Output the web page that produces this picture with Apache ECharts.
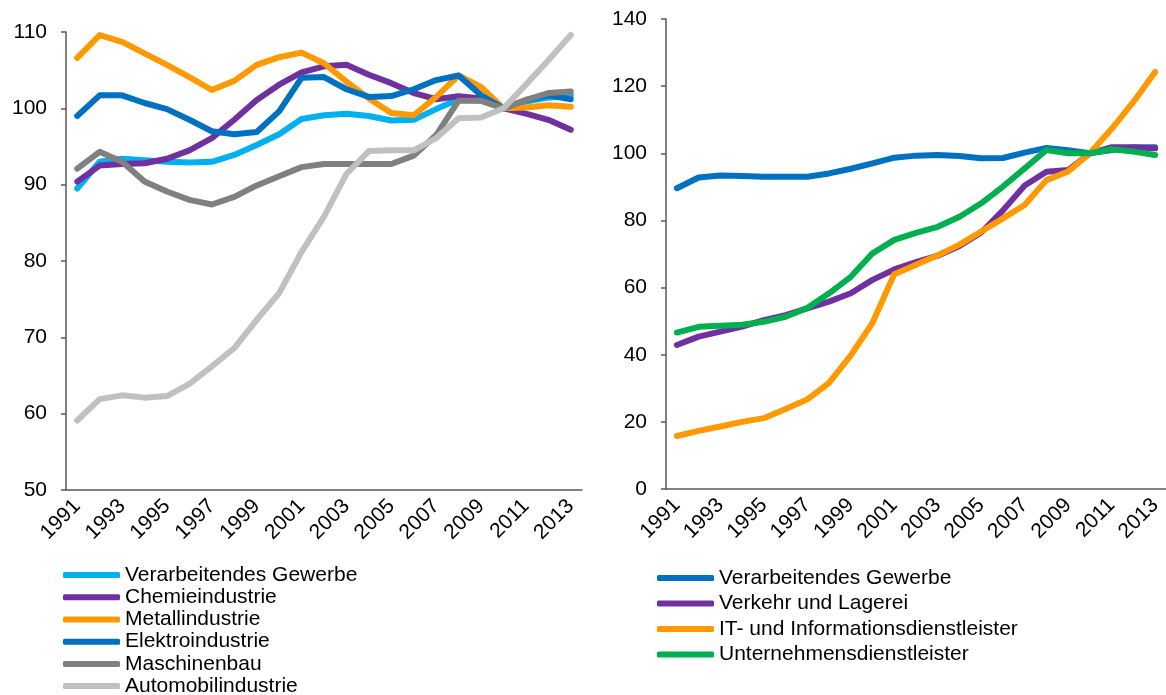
<!DOCTYPE html>
<html>
  <head>
    <meta charset="utf-8" />
    <title>Index</title>
    <style type="text/css">
      body{margin:0;padding:0;background:#fff;}
      #chart1{width:1166px;height:695px;}
    </style>
    <script type="text/javascript" src="https://cdn.jsdelivr.net/npm/echarts@6/dist/echarts.min.js"></script>
  </head>
  <body>
    <div id="chart1"></div>
  </body>
  <script type="text/javascript">
    // Jahre (x-Achse, beide Diagramme)
    var years = ['1991','1992','1993','1994','1995','1996','1997','1998','1999','2000','2001','2002',
                 '2003','2004','2005','2006','2007','2008','2009','2010','2011','2012','2013'];

    // linkes Diagramm: Industrie
    var vgLeft    = [89.5, 93.0, 93.4, 93.2, 93.0, 92.9, 93.0, 93.9, 95.2, 96.6, 98.6, 99.1, 99.3, 99.0, 98.4, 98.5, 99.9, 101.2, 101.0, 100.0, 100.9, 101.4, 101.7];
    var chemie    = [90.4, 92.5, 92.7, 92.8, 93.4, 94.5, 96.1, 98.5, 101.1, 103.1, 104.7, 105.5, 105.7, 104.4, 103.3, 102.0, 101.2, 101.6, 101.3, 100.0, 99.3, 98.5, 97.2];
    var metall    = [106.6, 109.6, 108.7, 107.2, 105.7, 104.1, 102.4, 103.6, 105.7, 106.7, 107.3, 105.9, 103.5, 101.3, 99.4, 99.1, 101.5, 104.3, 102.8, 100.0, 100.1, 100.4, 100.2];
    var elektro   = [99.0, 101.7, 101.7, 100.7, 99.9, 98.5, 97.0, 96.6, 96.9, 99.6, 104.0, 104.1, 102.5, 101.5, 101.6, 102.5, 103.7, 104.3, 101.7, 100.0, 101.1, 101.7, 101.2];
    var maschinen = [92.1, 94.3, 93.0, 90.4, 89.1, 88.0, 87.4, 88.4, 89.9, 91.1, 92.3, 92.7, 92.7, 92.7, 92.7, 93.8, 96.5, 101.0, 101.0, 100.0, 101.1, 102.0, 102.2];
    var automobil = [59.1, 61.9, 62.4, 62.1, 62.3, 63.9, 66.2, 68.6, 72.3, 75.8, 81.2, 85.8, 91.4, 94.4, 94.5, 94.5, 96.1, 98.7, 98.8, 100.0, 103.1, 106.3, 109.6];

    // rechtes Diagramm: Dienstleister
    var vgRight     = [89.6, 92.8, 93.4, 93.2, 93.0, 93.0, 93.0, 94.0, 95.4, 97.0, 98.7, 99.3, 99.5, 99.2, 98.5, 98.6, 100.2, 101.6, 100.9, 100.0, 101.0, 101.7, 101.8];
    var verkehr     = [42.9, 45.4, 46.9, 48.4, 50.3, 51.8, 53.8, 55.8, 58.3, 62.3, 65.4, 67.6, 69.5, 72.4, 76.4, 83.0, 90.4, 94.5, 95.0, 100.0, 101.8, 101.8, 101.5];
    var itDienst    = [15.8, 17.3, 18.6, 20.0, 21.1, 23.8, 26.7, 31.6, 39.8, 49.5, 64.0, 66.8, 69.6, 72.8, 76.7, 80.6, 84.6, 92.0, 94.6, 100.0, 107.3, 115.3, 124.2];
    var unternehmen = [46.6, 48.3, 48.6, 48.9, 49.8, 51.3, 53.9, 58.3, 63.2, 70.2, 74.2, 76.3, 78.1, 81.1, 85.1, 90.1, 95.5, 101.0, 100.0, 100.0, 101.2, 100.5, 99.5];

    var font = 'Liberation Sans, Arial, sans-serif';
    var axisColor = '#595959';

    function xAx(gi){
      return {
        type: 'category', gridIndex: gi, data: years, boundaryGap: true,
        axisLine: {lineStyle: {color: axisColor, width: 1.5}},
        axisTick: {show: false},
        axisLabel: {interval: 1, rotate: 45, margin: 13, fontSize: 21, color: '#000', fontFamily: font}
      };
    }
    function yAx(gi, min, max, step){
      return {
        type: 'value', gridIndex: gi, min: min, max: max, interval: step,
        splitLine: {show: false},
        axisLine: {show: true, lineStyle: {color: axisColor, width: 1.5}},
        axisTick: {show: true, length: 5, lineStyle: {color: axisColor, width: 1.5}},
        axisLabel: {margin: 19, fontSize: 21, color: '#000', fontFamily: font}
      };
    }
    function line(name, data, color, gi){
      return {
        name: name, type: 'line', xAxisIndex: gi, yAxisIndex: gi, data: data,
        symbol: 'none', smooth: false,
        lineStyle: {color: color, width: 6, cap: 'round', join: 'round'},
        itemStyle: {color: color}
      };
    }

    var myChart = echarts.init(document.getElementById('chart1'));
    myChart.setOption({
      animation: false,
      grid: [
        {left: 66, right: 584, top: 32, bottom: 205},
        {left: 666, right: 0, top: 19, bottom: 206}
      ],
      xAxis: [xAx(0), xAx(1)],
      yAxis: [yAx(0, 50, 110, 10), yAx(1, 0, 140, 20)],
      legend: [
        {
          orient: 'vertical', left: 63, top: 564, height: 150, padding: 0,
          icon: 'roundRect', itemWidth: 57, itemHeight: 6, itemGap: 0,
          textStyle: {fontSize: 21, lineHeight: 22.2, color: '#000', fontFamily: font},
          data: ['Verarbeitendes Gewerbe', 'Chemieindustrie', 'Metallindustrie', 'Elektroindustrie', 'Maschinenbau', 'Automobilindustrie']
        },
        {
          orient: 'vertical', left: 657, top: 567, padding: 0,
          icon: 'roundRect', itemWidth: 57, itemHeight: 6, itemGap: 3.5,
          textStyle: {fontSize: 21, lineHeight: 22, color: '#000', fontFamily: font},
          data: ['Verarbeitendes Gewerbe ', 'Verkehr und Lagerei', 'IT- und Informationsdienstleister', 'Unternehmensdienstleister']
        }
      ],
      series: [
        line('Verarbeitendes Gewerbe', vgLeft, '#00B0F0', 0),
        line('Chemieindustrie', chemie, '#7030A0', 0),
        line('Metallindustrie', metall, '#FF9900', 0),
        line('Elektroindustrie', elektro, '#0070C0', 0),
        line('Maschinenbau', maschinen, '#808080', 0),
        line('Automobilindustrie', automobil, '#C0C0C0', 0),
        line('Verarbeitendes Gewerbe ', vgRight, '#0070C0', 1),
        line('Verkehr und Lagerei', verkehr, '#7030A0', 1),
        line('IT- und Informationsdienstleister', itDienst, '#FF9900', 1),
        line('Unternehmensdienstleister', unternehmen, '#00B050', 1)
      ]
    });
  </script>
</html>
